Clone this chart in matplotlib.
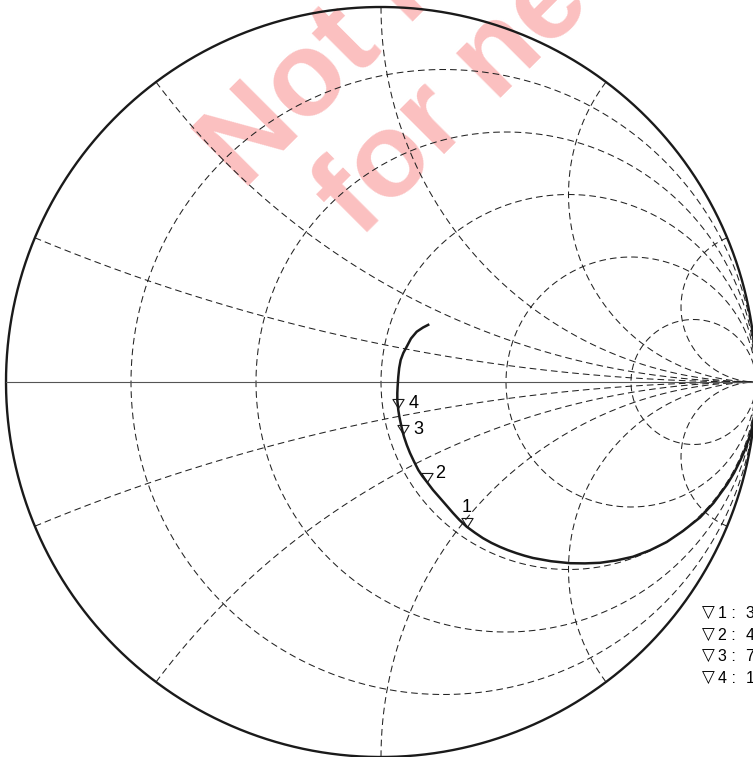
import numpy as np
import matplotlib
matplotlib.use('Agg')
import matplotlib.pyplot as plt
from matplotlib.path import Path

plt.rcParams['font.family'] = ['Liberation Sans', 'DejaVu Sans']
plt.rcParams['lines.scale_dashes'] = False

# Smith chart grid (normalized impedance)
resistances = [0.2, 0.5, 1.0, 2.0, 5.0]
reactances = [0.2, 0.5, 1.0, 2.0, 5.0]

# trace, reflection coefficient
gamma_re = [0.1288, 0.1120, 0.0952, 0.0800, 0.0685, 0.0595, 0.0525, 0.0485, 0.0461, 0.0443,
            0.0435, 0.0435, 0.0461, 0.0488, 0.0525, 0.0565, 0.0613, 0.0688, 0.0773, 0.0880,
            0.0995, 0.1101, 0.1219, 0.1387, 0.1573, 0.1747, 0.1920, 0.2093, 0.2285, 0.2507,
            0.2720, 0.2947, 0.3173, 0.3387, 0.3613, 0.3827, 0.4053, 0.4533, 0.5040, 0.5440,
            0.5840, 0.6267, 0.6720, 0.7173, 0.7619, 0.8053, 0.8507, 0.8867, 0.9227, 0.9413,
            0.9573, 0.9680, 0.9760, 0.9840, 0.9893, 0.9960]
gamma_im = [0.1539, 0.1453, 0.1341, 0.1160, 0.0941, 0.0773, 0.0587, 0.0373, 0.0141, -0.0125,
            -0.0293, -0.0480, -0.0747, -0.0920, -0.1093, -0.1280, -0.1459, -0.1680, -0.1893, -0.2120,
            -0.2347, -0.2507, -0.2659, -0.2880, -0.3093, -0.3293, -0.3493, -0.3680, -0.3859, -0.4021,
            -0.4165, -0.4291, -0.4397, -0.4485, -0.4565, -0.4632, -0.4693, -0.4779, -0.4832, -0.4837,
            -0.4821, -0.4760, -0.4659, -0.4488, -0.4267, -0.3973, -0.3613, -0.3227, -0.2733, -0.2427,
            -0.2107, -0.1867, -0.1653, -0.1427, -0.1227, -0.0853]

marker_ids = ['1', '2', '3', '4']
marker_re = [0.2285, 0.1219, 0.0595, 0.0450]
marker_im = [-0.3859, -0.2659, -0.1387, -0.0700]

legend_values = ['300 MHz', '400 MHz', '700 MHz', '1 GHz']


def z_to_gamma(z):
    return (z - 1) / (z + 1)


fig = plt.figure(figsize=(7.53, 7.57), dpi=100)
ax = fig.add_axes([0, 0, 1, 1])
ax.set_xlim(-381 / 375, 372 / 375)
ax.set_ylim(-375 / 375, 382 / 375)
ax.axis('off')

grid_kw = dict(color='#222222', lw=0.75, ls=(0, (4.8, 2.9)), zorder=2)

t = np.linspace(-np.pi / 2 + 1e-4, np.pi / 2 - 1e-4, 3000)
for r in resistances:
    g = z_to_gamma(r + 1j * np.tan(t))
    ax.plot(g.real, g.imag, **grid_kw)

s = np.linspace(0, np.pi / 2 - 1e-4, 3000)
for x in reactances:
    for sign in (1, -1):
        g = z_to_gamma(np.tan(s) + 1j * sign * x)
        ax.plot(g.real, g.imag, **grid_kw)

# outer circle and real axis
a = np.linspace(0, 2 * np.pi, 1000)
ax.plot(np.cos(a), np.sin(a), color='#1a1a1a', lw=1.7, zorder=3)
ax.plot([-1, 1], [0, 0], color='#555555', lw=0.8, zorder=3)

# trace
ax.plot(gamma_re, gamma_im, color='#1a1a1a', lw=1.8, zorder=4,
        solid_capstyle='butt', solid_joinstyle='round')

# markers: open triangles with apex on the trace
tri = Path([(-0.62, 1.0), (0.62, 1.0), (0.0, 0.0), (-0.62, 1.0)],
           [Path.MOVETO, Path.LINETO, Path.LINETO, Path.CLOSEPOLY])
ax.plot(marker_re, marker_im, ls='none', marker=tri, ms=13,
        mfc='none', mec='#1a1a1a', mew=0.8, zorder=5)
label_offsets = {'1': (0, 10.5), '2': (6, 3), '3': (7, 0), '4': (7.5, 0.5)}
for mid, mx, my in zip(marker_ids, marker_re, marker_im):
    ax.annotate(mid, (mx, my), xytext=label_offsets[mid], textcoords='offset points',
                ha='center' if mid == '1' else 'left', va='baseline',
                fontsize=13, zorder=6)

# legend text (cut off at the right edge)
for i, (mid, val) in enumerate(zip(marker_ids, legend_values)):
    yy = 1 - (618 + 21.7 * i) / 757
    fig.text(702 / 753, yy, '\u25bd', fontsize=12, ha='left', va='baseline',
             family='DejaVu Sans')
    fig.text(718.5 / 753, yy, mid + ' :', fontsize=11.5, ha='left', va='baseline')
    fig.text(745.5 / 753, yy, val, fontsize=11.5, ha='left', va='baseline')

# watermark
wm_kw = dict(fontsize=86, fontweight='bold', color='#fbc0c0', rotation=45,
             rotation_mode='anchor', ha='left', va='baseline', zorder=1,
             family='Liberation Sans')
ax.text(-0.368, 0.509, 'Not recommended', **wm_kw)
ax.text(-0.058, 0.381, 'for new designs', **wm_kw)

fig.savefig('out.png', dpi=100)
